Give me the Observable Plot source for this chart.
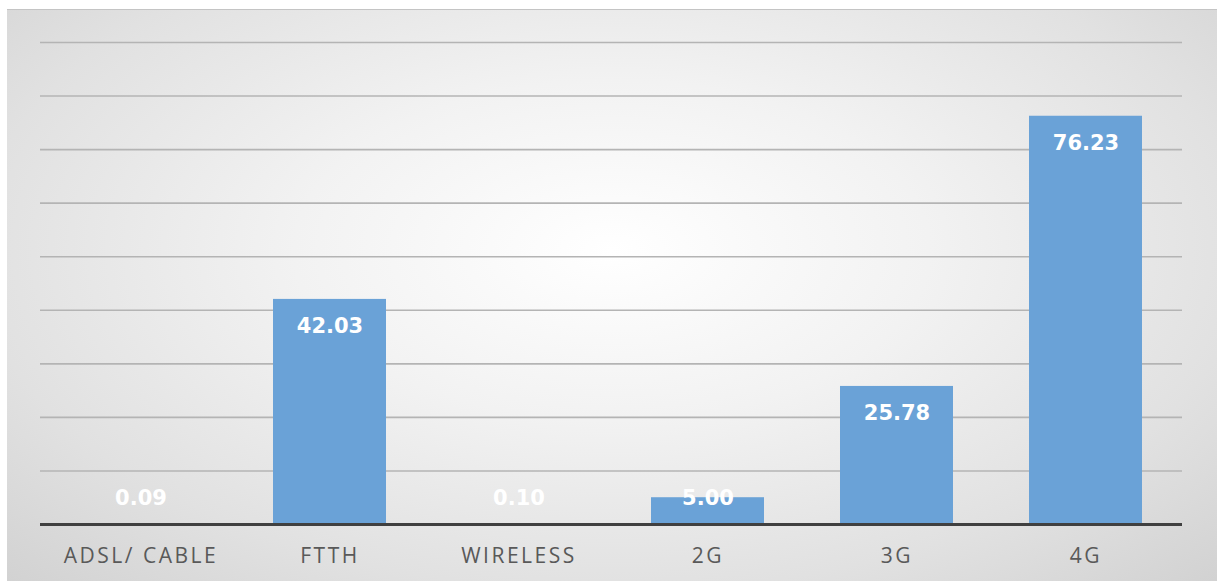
<!DOCTYPE html>
<html>
<head>
<meta charset="utf-8">
<script src="https://cdn.jsdelivr.net/npm/d3@7"></script>
<script src="https://cdn.jsdelivr.net/npm/@observablehq/plot@0.6"></script>
<style>
  html, body { margin: 0; padding: 0; background: #ffffff; }
  #wrap {
    position: absolute; left: 7px; top: 9px; width: 1210px; height: 572px;
    border-top: 1.5px solid #c4c4c4;
    background: radial-gradient(ellipse 75% 85% at 50% 42%, #ffffff 0%, #f2f2f2 35%, #e1e1e1 70%, #cfcfcf 100%);
  }
  #wrap svg { background: transparent; display: block; }
  #wrap svg g[aria-label="x-axis tick label"] text { letter-spacing: 2.5px; }
</style>
</head>
<body>
<div id="wrap"></div>
<script>
const categories = ["ADSL/ CABLE", "FTTH", "WIRELESS", "2G", "3G", "4G"];
const values = [0.09, 42.03, 0.10, 5.00, 25.78, 76.23];
const gridTicks = [10, 20, 30, 40, 50, 60, 70, 80, 90];

const data = categories.map((c, i) => ({category: c, value: values[i]}));

const chart = Plot.plot({
  width: 1210,
  height: 572,
  marginLeft: 33,
  marginRight: 35,
  marginTop: 32,
  marginBottom: 58,
  style: {background: "transparent", overflow: "visible"},
  x: {domain: categories, paddingInner: 0.4, paddingOuter: 0.2, insetLeft: 6.5, insetRight: 1.5, label: null},
  y: {domain: [0, 90], axis: null},
  marks: [
    Plot.ruleY(gridTicks, {stroke: "#b4b4b4", strokeWidth: 1.6}),
    Plot.barY(data, {x: "category", y: "value", fill: "#6aa2d7"}),
    Plot.ruleY([0], {stroke: "#404040", strokeWidth: 3}),
    Plot.text(data, {
      x: "category",
      y: d => Math.max(d.value, 9.9),
      dy: 27,
      text: d => d.value.toFixed(2),
      fill: "#ffffff",
      fontSize: 21,
      fontWeight: "bold",
      fontFamily: "DejaVu Sans",
      textAnchor: "middle"
    }),
    Plot.axisX({tickSize: 0, tickPadding: 24, fontSize: 21, fontFamily: "Open Sans", fill: "#595959", label: null})
  ]
});
document.getElementById("wrap").appendChild(chart);
</script>
</body>
</html>
